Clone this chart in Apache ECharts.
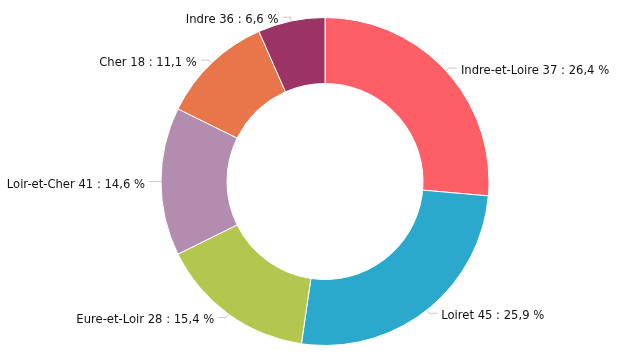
<!DOCTYPE html>
<html>
<head>
<meta charset="utf-8">
<script src="https://cdn.jsdelivr.net/npm/echarts@6/dist/echarts.min.js"></script>
<style>html,body{margin:0;padding:0;background:#fff}#c{width:624px;height:360px}</style>
</head>
<body>
<div id="c"></div>
<script>
const names = ['Indre-et-Loire', 'Loiret', 'Eure-et-Loir', 'Loir-et-Cher', 'Cher', 'Indre'];
const codes = ['37', '45', '28', '41', '18', '36'];
const values = [26.4, 25.9, 15.4, 14.6, 11.1, 6.6];
const colors = ['#fe5f67', '#2aa9cd', '#b3c74e', '#b28db0', '#e8764a', '#9b3364'];

const chart = echarts.init(document.getElementById('c'), null, {renderer: 'canvas'});
chart.setOption({
  animation: false,
  backgroundColor: '#ffffff',
  series: [{
    type: 'pie',
    center: [325, 181.5],
    radius: [98, 164],
    startAngle: 90,
    clockwise: true,
    avoidLabelOverlap: false,
    itemStyle: {borderColor: '#ffffff', borderWidth: 1},
    label: {
      show: true,
      position: 'outside',
      distanceToLabelLine: 4,
      formatter: function (p) {
        return '{t|' + p.name + ' ' + codes[p.dataIndex] + ' : ' + String(p.value).replace('.', ',') + ' %}';
      },
      rich: {
        t: {fontFamily: 'DejaVu Sans', fontSize: 11.6, color: '#111111', padding: [6, 0, 0, 0]}
      }
    },
    labelLine: {show: true, length: 4, length2: 8, smooth: false, lineStyle: {color: '#c8c8c8', width: 1}},
    emphasis: {disabled: true},
    data: names.map((n, i) => ({name: n, value: values[i], itemStyle: {color: colors[i]}}))
  }]
});
</script>
</body>
</html>
